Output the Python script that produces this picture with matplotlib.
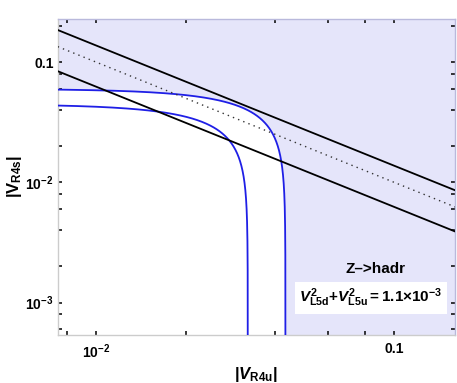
import matplotlib
matplotlib.use('Agg')

import matplotlib.pyplot as plt
import matplotlib.ticker as mticker
import numpy as np

plt.rcParams['font.family'] = ['Liberation Sans', 'DejaVu Sans']
plt.rcParams['font.weight'] = 'bold'
plt.rcParams['mathtext.fontset'] = 'custom'
plt.rcParams['mathtext.rm'] = 'Liberation Sans:bold'
plt.rcParams['mathtext.bf'] = 'Liberation Sans:bold'
plt.rcParams['mathtext.it'] = 'Liberation Sans:italic:bold'
plt.rcParams['mathtext.sf'] = 'Liberation Sans:bold'

# ellipse bounds (semi-axes along |V_R4u|, |V_R4s|)
ellipse_outer = (0.0432, 0.0599)
ellipse_inner = (0.0323, 0.0447)
# lines |V_R4u|*|V_R4s| = const
prod_upper = 1.375e-3
prod_dotted = 1.0e-3
prod_lower = 6.25e-4

x_lim = (0.00746, 0.16)
y_lim = (5.38e-4, 0.228)
x_major = [0.01, 0.1]
x_major_labels = [r'$10^{-2}$', '0.1']
y_major = [1e-3, 1e-2, 0.1]
y_major_labels = [r'$10^{-3}$', r'$10^{-2}$', '0.1']

shade = '#e5e5fa'
blue = '#1f1fe6'

fig = plt.figure(figsize=(4.57, 3.83), dpi=100)
ax = fig.add_axes([58/457, 48/383, 397/457, 316/383])
ax.set_xscale('log')
ax.set_yscale('log')
ax.set_facecolor(shade)

def ellipse(a, b):
    th = np.concatenate([np.geomspace(1e-5, 0.1, 200), np.linspace(0.1, np.pi/2, 300)[1:]])
    return a*np.cos(th), b*np.sin(th)

# allowed (white) region inside outer ellipse
ex, ey = ellipse(*ellipse_outer)
order = np.argsort(ex)
ax.fill_between(ex[order], 1e-6, ey[order], color='white', lw=0, zorder=1)

for a, b in [ellipse_outer, ellipse_inner]:
    px, py = ellipse(a, b)
    ax.plot(px, py, color=blue, lw=1.3, zorder=3)

xx = np.geomspace(0.005, 0.2, 50)
ax.plot(xx, prod_upper/xx, color='black', lw=1.3, zorder=4)
ax.plot(xx, prod_lower/xx, color='black', lw=1.3, zorder=4)
ax.plot(xx, prod_dotted/xx, color='#333333', lw=1.0, ls=(0, (1, 3)), zorder=4)

ax.set_xlim(*x_lim)
ax.set_ylim(*y_lim)

ax.xaxis.set_major_locator(mticker.FixedLocator(x_major))
ax.xaxis.set_major_formatter(mticker.FixedFormatter(x_major_labels))
ax.yaxis.set_major_locator(mticker.FixedLocator(y_major))
ax.yaxis.set_major_formatter(mticker.FixedFormatter(y_major_labels))
ax.xaxis.set_minor_locator(mticker.LogLocator(subs=[2, 4, 6, 8]))
ax.yaxis.set_minor_locator(mticker.LogLocator(subs=[2, 4, 6, 8]))
ax.xaxis.set_minor_formatter(mticker.NullFormatter())
ax.yaxis.set_minor_formatter(mticker.NullFormatter())

ax.tick_params(which='both', direction='in', top=True, right=True,
               length=3, width=1.1, color='black', labelsize=10)
ax.tick_params(axis='x', pad=5)
ax.tick_params(axis='y', pad=3)

for side in ['left', 'bottom']:
    ax.spines[side].set_color('#cccccc')
for side in ['top', 'right']:
    ax.spines[side].set_color('#b9b9dc')
for sp in ax.spines.values():
    sp.set_linewidth(1.0)

fig.text(14/457, 1 - 176/383, r'$|\mathrm{V}_{\mathrm{R4s}}|$', rotation=90,
         ha='center', va='center', fontsize=12)
fig.text(256/457, 1 - 375/383, r'$|V_{\mathrm{R4u}}|$',
         ha='center', va='center', fontsize=12)

fig.text(375/457, 1 - 269/383, 'Z\u2013>hadr', fontsize=11,
         ha='center', va='center', zorder=6)
fig.text(371/457, 1 - 298/383,
         r'$V^2_{\mathrm{L5d}}{+}V^2_{\mathrm{L5u}}\mathrm{=}1.1{\times}10^{-3}$',
         ha='center', va='center', fontsize=11, zorder=6,
         bbox=dict(boxstyle='square,pad=0.3', fc='white', ec='none'))

fig.savefig('out.png', dpi=100)
